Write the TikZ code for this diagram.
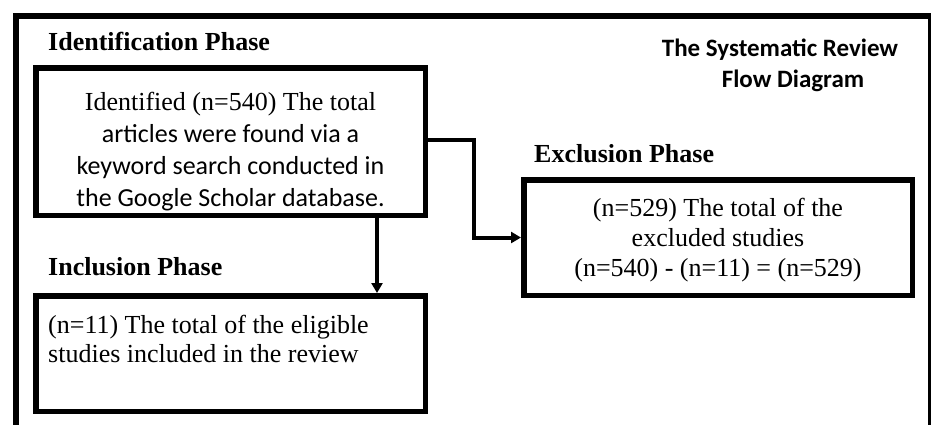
\documentclass[tikz,border=0pt]{standalone}
\usepackage{fontspec}
\setmainfont{Liberation Serif}
\newfontfamily\sansf{Carlito}
\usetikzlibrary{arrows.meta}
\begin{document}
\begin{tikzpicture}[x=1pt,y=-1pt,
  box/.style={draw=black,line width=5.5pt,rectangle,inner sep=0pt,fill=none},
  conn/.style={draw=black,line width=4pt},
  arr/.style={conn,-{Triangle[length=10pt,width=11pt]}},
  phase/.style={anchor=base west,inner sep=0pt,font=\fontsize{26}{30}\selectfont\bfseries},
  body/.style={inner sep=0pt},
  ttl/.style={anchor=base,inner sep=0pt,font=\sansf\bfseries\fontsize{25}{30}\selectfont}]
\useasboundingbox (0,0) rectangle (931,424);
\fill[white] (0,0) rectangle (931,424);
% outer frame
\draw[line width=6pt] (16,432) -- (16,16) -- (931,16);
\draw[line width=3pt] (929.5,16) -- (929.5,432);
% title
\node[ttl] (t1) at (780,56) {The Systematic Review};
\node[ttl] (t2) at (793,87) {Flow Diagram};
% phase labels
\node[phase] (lid) at (48,50) {Identification Phase};
\node[phase] (lex) at (534,162) {Exclusion Phase};
\node[phase] (lin) at (48,275) {Inclusion Phase};
% boxes
\node[box,minimum width=389.5pt,minimum height=147.5pt] (b1) at (230.5,141.5) {};
\node[box,minimum width=388.5pt,minimum height=115.5pt] (b2) at (718,237.5) {};
\node[box,minimum width=389.5pt,minimum height=115.5pt] (b3) at (230.5,353.5) {};
% texts (base = baseline of last line)
\node[body,anchor=base,align=center,font=\fontsize{26}{32}\selectfont] (x1) at (230.5,206)
  {Identified (n=540) The total\\
   {\sansf articles were found via a}\\
   {\sansf keyword search conducted in}\\
   {\sansf the Google Scholar database.}};
\node[body,anchor=base,align=center,font=\fontsize{26}{30}\selectfont] (x2) at (718,276)
  {(n=529) The total of the\\ excluded studies\\ (n=540) - (n=11) = (n=529)};
\node[body,anchor=base west,align=left,font=\fontsize{26}{29}\selectfont] (x3) at (48,362)
  {(n=11) The total of the eligible\\ studies included in the review};
% connectors
\coordinate (dx) at (377,0);
\coordinate (ey) at (0,140);
\coordinate (ex) at (474,237.5);
\draw[arr] (b1.south -| dx) -- (b3.north -| dx);
\draw[arr] (b1.east |- ey) -- (ex |- ey) -- (ex) -- (b2.west |- ex);
\end{tikzpicture}
\end{document}
